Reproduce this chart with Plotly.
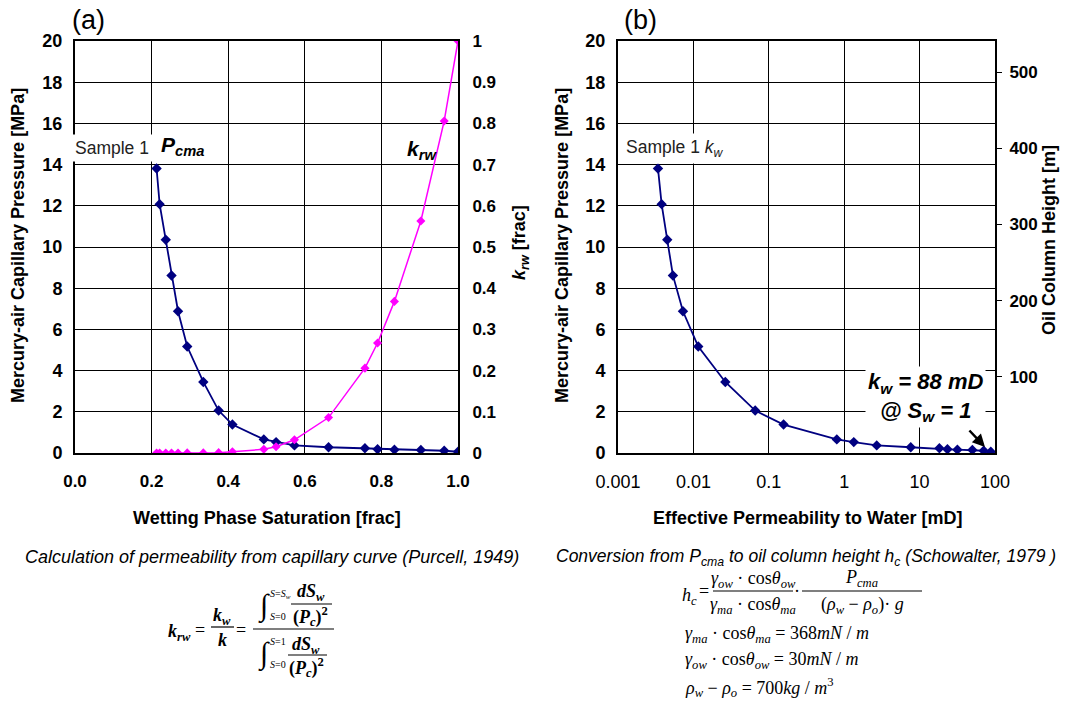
import plotly.graph_objects as go

# ---------------- data ----------------
Sw = [0.213, 0.221, 0.237, 0.252, 0.269, 0.293, 0.335, 0.375, 0.411, 0.493,
      0.525, 0.573, 0.662, 0.757, 0.790, 0.834, 0.903, 0.964, 1.0]
Pcma = [13.81, 12.08, 10.35, 8.62, 6.88, 5.17, 3.45, 2.06, 1.38, 0.66,
        0.53, 0.37, 0.28, 0.23, 0.18, 0.16, 0.15, 0.11, 0.06]
krw = [0.0, 0.0, 0.0, 0.0, 0.0, 0.0002, 0.0003, 0.0008, 0.003, 0.009,
       0.015, 0.032, 0.086, 0.206, 0.267, 0.368, 0.563, 0.806, 1.0]
kw = [0.00339, 0.00379, 0.0045, 0.00535, 0.00727, 0.0116, 0.0265, 0.066, 0.157, 0.798,
      1.34, 2.70, 7.63, 18.3, 23.4, 31.7, 50.1, 70.8, 88.0]

sat_ticks = [0.0, 0.2, 0.4, 0.6, 0.8, 1.0]
sat_ticktext = ["0.0", "0.2", "0.4", "0.6", "0.8", "1.0"]
perm_ticks = [0.001, 0.01, 0.1, 1, 10, 100]
perm_ticktext = ["0.001", "0.01", "0.1", "1", "10", "100"]
height_ticks = [100, 200, 300, 400, 500]
height_max = 541

W, H = 1081, 709
SANS = "Liberation Sans, Arial, sans-serif"
SERIF = "Liberation Serif, Times New Roman, serif"
NAVY = "#000080"
MAGENTA = "#FF00FF"


def X(px):
    return px / W


def Y(py):
    return 1 - py / H


fig = go.Figure()
fig.add_trace(go.Scatter(x=Sw, y=Pcma, xaxis="x", yaxis="y", mode="lines+markers",
                         line=dict(color=NAVY, width=1.8),
                         marker=dict(symbol="diamond", size=8, color=NAVY),
                         showlegend=False))
fig.add_trace(go.Scatter(x=Sw, y=krw, xaxis="x", yaxis="y2", mode="lines+markers",
                         line=dict(color=MAGENTA, width=1.5),
                         marker=dict(symbol="diamond", size=7, color=MAGENTA),
                         showlegend=False))
fig.add_trace(go.Scatter(x=kw, y=Pcma, xaxis="x2", yaxis="y3", mode="lines+markers",
                         line=dict(color=NAVY, width=1.8),
                         marker=dict(symbol="diamond", size=8, color=NAVY),
                         showlegend=False))
# invisible trace so the oil-column-height axis is drawn
fig.add_trace(go.Scatter(x=[kw[0]], y=[0], xaxis="x2", yaxis="y4", mode="markers",
                         marker=dict(opacity=0), hoverinfo="skip", showlegend=False))

ydom = [Y(453), Y(41)]
tf_y = dict(family=SANS, size=18, color="black", weight="bold")
tf_b = dict(family=SANS, size=17, color="black", weight="bold")
common = dict(showline=True, linecolor="black", linewidth=2, zeroline=False,
              automargin=False)
grid = dict(showgrid=True, gridcolor="black", gridwidth=1)

fig.update_layout(
    width=W, height=H, margin=dict(l=0, r=0, t=0, b=0, autoexpand=False),
    paper_bgcolor="white", plot_bgcolor="white",
    xaxis=dict(domain=[X(75), X(458)], anchor="y", range=[0, 1],
               tickvals=sat_ticks, ticktext=sat_ticktext, ticks="",
               tickfont=tf_b, ticklabelstandoff=12, mirror=True, **common, **grid),
    yaxis=dict(domain=ydom, anchor="x", range=[0, 20], dtick=2, ticks="",
               tickfont=tf_y, ticklabelstandoff=7, mirror=True, **common, **grid),
    yaxis2=dict(overlaying="y", side="right", anchor="x", range=[0, 1], dtick=0.1,
                ticks="inside", ticklen=5, tickcolor="black", showgrid=False,
                tickfont=tf_b, ticklabelstandoff=9, **common),
    xaxis2=dict(domain=[X(618), X(995)], anchor="y3", type="log", range=[-3, 2],
                tickvals=perm_ticks, ticktext=perm_ticktext, ticks="",
                tickfont=dict(family=SANS, size=18, color="black"),
                ticklabelstandoff=11, mirror=True, **common, **grid),
    yaxis3=dict(domain=ydom, anchor="x2", range=[0, 20], dtick=2, ticks="",
                tickfont=tf_y, ticklabelstandoff=7, mirror=True, **common, **grid),
    yaxis4=dict(overlaying="y3", side="right", anchor="x2", range=[0, height_max],
                tickvals=height_ticks, ticks="outside", ticklen=5, tickcolor="black",
                showgrid=False, tickfont=tf_b, ticklabelstandoff=4, **common),
)

annotations = []
shapes = []


def ann(x, y, text, size=16, family=SANS, color="black", xanchor="center",
        yanchor="middle", angle=0, **kw):
    annotations.append(dict(x=X(x), y=Y(y), xref="paper", yref="paper", text=text,
                            showarrow=False, xanchor=xanchor, yanchor=yanchor,
                            textangle=angle,
                            font=dict(family=family, size=size, color=color), **kw))


def hline(x0, x1, y, width=1.2):
    shapes.append(dict(type="line", xref="paper", yref="paper", x0=X(x0), x1=X(x1),
                       y0=Y(y), y1=Y(y), line=dict(color="black", width=width)))


# panel labels
ann(88, 20, "(a)", size=27)
ann(640, 20, "(b)", size=27)

# axis titles
ann(18, 246, "<b>Mercury-air Capillary Pressure [MPa]</b>", size=18, angle=-90)
ann(520, 243, "<b><i>k<sub>rw</sub></i> [frac]</b>", size=18, angle=-90)
ann(267, 518, "<b>Wetting Phase Saturation [frac]</b>", size=18)
ann(562, 246, "<b>Mercury-air Capillary Pressure [MPa]</b>", size=18, angle=-90)
ann(1049, 240, "<b>Oil Column Height [m]</b>", size=18, angle=-90)
ann(807, 518, "<b>Effective Permeability to Water [mD]</b>", size=18)

# in-plot labels
ann(112, 148, "Sample 1", size=17.5, color="#222222", bgcolor="white", borderpad=3)
ann(159, 146, "<b><i>P<sub>cma</sub></i></b>", size=21, xanchor="left")
ann(405, 150, "<b><i>k<sub>rw</sub></i></b>", size=21, xanchor="left")
ann(622, 148, "Sample 1 <i>k<sub>w</sub></i>", size=17.5, color="#222222",
    xanchor="left", bgcolor="white", borderpad=3)
ann(925, 397, "<b><i>k<sub>w</sub> = 88 mD<br>@ S<sub>w</sub> = 1</i></b>", size=22,
    bgcolor="white", borderpad=2)
annotations.append(dict(x=X(985), y=Y(447), xref="paper", yref="paper", text="",
                        showarrow=True, ax=-17, ay=-18, arrowhead=2, arrowsize=1,
                        arrowwidth=2.5, arrowcolor="black"))

# captions
ann(272, 557, "<i>Calculation of permeability from capillary curve (Purcell, 1949)</i>",
    size=18)
ann(806, 557, "<i>Conversion from P<sub>cma</sub> to oil column height h<sub>c</sub> "
              "(Schowalter, 1979 )</i>", size=17.5)

# ---- formula (a): Purcell ----
FS = 18
ann(179, 632, "<b><i>k<sub>rw</sub></i></b>", size=FS, family=SERIF)
ann(200, 630, "=", size=FS, family=SERIF)
ann(222, 616, "<b><i>k<sub>w</sub></i></b>", size=FS, family=SERIF)
hline(211, 234, 627)
ann(222, 640, "<b><i>k</i></b>", size=FS, family=SERIF)
ann(241, 630, "=", size=FS, family=SERIF)
hline(253, 334, 629)
# numerator
ann(264, 606, "∫", size=30, family=SERIF)
ann(268, 594, "<i>S</i>=<i>S<sub>w</sub></i>", size=10, family=SERIF, xanchor="left")
ann(268, 616, "<i>S</i>=0", size=10, family=SERIF, xanchor="left")
ann(311, 592, "<b><i>dS<sub>w</sub></i></b>", size=FS, family=SERIF)
hline(291, 332, 604)
ann(310, 616, "<b>(<i>P<sub>c</sub></i>)<sup>2</sup></b>", size=FS, family=SERIF)
# denominator
ann(264, 654, "∫", size=30, family=SERIF)
ann(268, 641, "<i>S</i>=1", size=10, family=SERIF, xanchor="left")
ann(268, 664, "<i>S</i>=0", size=10, family=SERIF, xanchor="left")
ann(306, 645, "<b><i>dS<sub>w</sub></i></b>", size=FS, family=SERIF)
hline(288, 327, 655)
ann(306, 667, "<b>(<i>P<sub>c</sub></i>)<sup>2</sup></b>", size=FS, family=SERIF)

# ---- formula (b): Schowalter ----
FB = 18
ann(680, 596, "<i>h<sub>c</sub></i>", size=FB, family=SERIF, xanchor="left")
ann(704, 591, "=", size=FB, family=SERIF)
ann(753, 579, "<i>γ<sub>ow</sub></i> · cos<i>θ<sub>ow</sub></i>", size=FB, family=SERIF)
hline(713, 793, 591)
ann(753, 605, "<i>γ<sub>ma</sub></i> · cos<i>θ<sub>ma</sub></i>", size=FB, family=SERIF)
ann(797, 591, "·", size=FB, family=SERIF)
ann(861, 578, "<i>P<sub>cma</sub></i>", size=FB, family=SERIF)
hline(802, 922, 591)
ann(862, 605, "(<i>ρ<sub>w</sub></i> − <i>ρ<sub>o</sub></i>)· <i>g</i>", size=FB, family=SERIF)
ann(683, 634, "<i>γ<sub>ma</sub></i> · cos<i>θ<sub>ma</sub></i> = 368<i>mN</i> / <i>m</i>",
    size=FB, family=SERIF, xanchor="left")
ann(683, 660, "<i>γ<sub>ow</sub></i> · cos<i>θ<sub>ow</sub></i> = 30<i>mN</i> / <i>m</i>",
    size=FB, family=SERIF, xanchor="left")
ann(683, 687, "<i>ρ<sub>w</sub></i> − <i>ρ<sub>o</sub></i> = 700<i>kg</i> / <i>m</i><sup>3</sup>",
    size=FB, family=SERIF, xanchor="left")

fig.update_layout(annotations=annotations, shapes=shapes)
fig.write_html("out.html")
